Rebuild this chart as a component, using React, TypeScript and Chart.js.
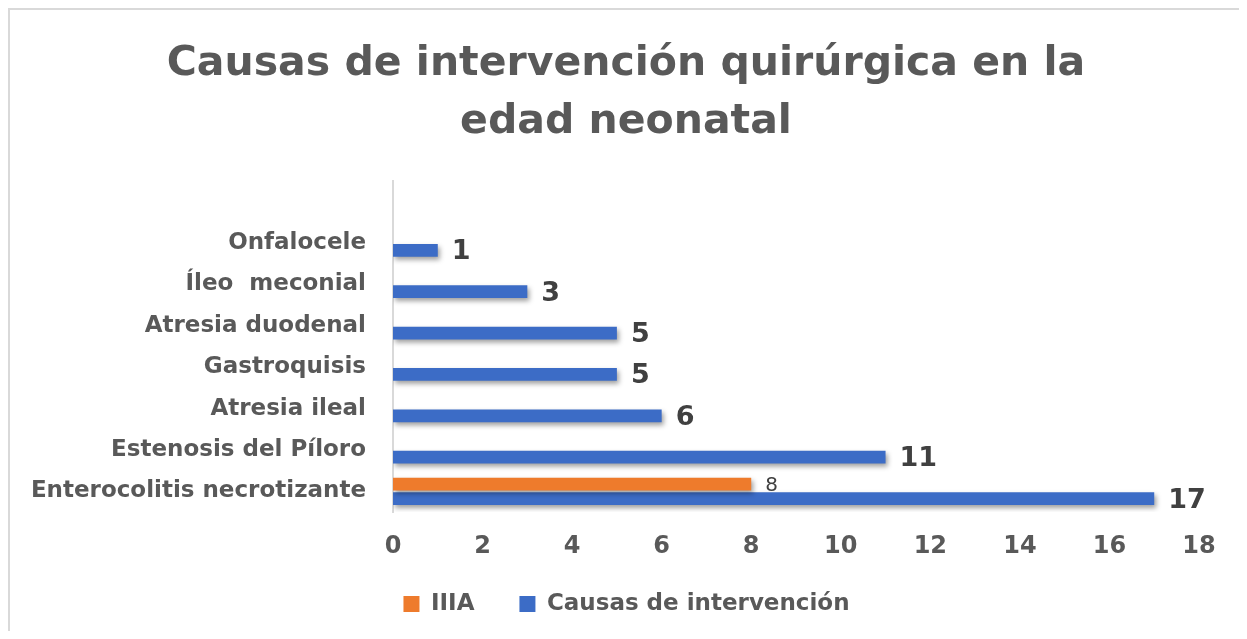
import React, { useEffect, useRef } from "react";
import { Chart, registerables } from "chart.js";

Chart.register(...registerables);

const categories = [
  "",
  "Onfalocele",
  "Íleo  meconial",
  "Atresia duodenal",
  "Gastroquisis",
  "Atresia ileal",
  "Estenosis del Píloro",
  "Enterocolitis necrotizante",
];
const iiiaValues = [null, null, null, null, null, null, null, 8];
const causasValues = [null, 1, 3, 5, 5, 6, 11, 17];
const seriesNames = ["IIIA", "Causas de intervención"];
const titleLines = ["Causas de intervención quirúrgica en la", "edad neonatal"];
const xMin = 0;
const xMax = 18;
const xStep = 2;

const FONT = "'DejaVu Sans', sans-serif";
const GRAY = "#595959";

const labelStyles = [
  { font: `normal 20px ${FONT}`, color: "#404040", dx: 14, dy: 2 },
  { font: `bold 27px ${FONT}`, color: "#404040", dx: 14, dy: 2 },
];

const blockShift = {
  id: "blockShift",
  afterLayout(chart: any) {
    const t = chart.titleBlock;
    if (t) {
      t.left += 21.5;
      t.right += 21.5;
    }
    const l = chart.legend;
    if (l) {
      l.left += 22;
      l.right += 22;
      l.top -= 16.5;
      l.bottom -= 16.5;
    }
  },
};

const barEffects = {
  id: "barEffects",
  beforeDatasetsDraw(chart: any) {
    const ctx = chart.ctx;
    ctx.save();
    ctx.shadowColor = "rgba(0,0,0,0.38)";
    ctx.shadowBlur = 5;
    ctx.shadowOffsetX = 2;
    ctx.shadowOffsetY = 3;
  },
  afterDatasetsDraw(chart: any) {
    const ctx = chart.ctx;
    ctx.restore();
    ctx.save();
    chart.data.datasets.forEach((ds: any, i: number) => {
      const meta = chart.getDatasetMeta(i);
      const st = labelStyles[i];
      meta.data.forEach((el: any, j: number) => {
        const v = ds.data[j];
        if (v === null || v === undefined) return;
        ctx.font = st.font;
        ctx.fillStyle = st.color;
        ctx.textAlign = "left";
        ctx.textBaseline = "middle";
        ctx.fillText(String(v), el.x + st.dx, el.y + st.dy);
      });
    });
    ctx.restore();
  },
};

export default function App() {
  const ref = useRef<HTMLCanvasElement | null>(null);
  useEffect(() => {
    if (!ref.current) return;
    const chart = new Chart(ref.current, {
      type: "bar",
      data: {
        labels: categories,
        datasets: [
          {
            label: seriesNames[0],
            data: iiiaValues,
            backgroundColor: "#EE7B2C",
            borderWidth: 0,
            categoryPercentage: 0.7,
            barPercentage: 0.88,
          },
          {
            label: seriesNames[1],
            data: causasValues,
            backgroundColor: "#3C6CC6",
            borderWidth: 0,
            categoryPercentage: 0.7,
            barPercentage: 0.88,
          },
        ],
      },
      plugins: [blockShift, barEffects],
      options: {
        indexAxis: "y",
        responsive: false,
        animation: false,
        events: [],
        layout: { padding: { top: 0, left: 0, right: 43, bottom: 28 } },
        scales: {
          x: {
            min: xMin,
            max: xMax,
            ticks: {
              stepSize: xStep,
              maxRotation: 0,
              padding: 20.6,
              color: GRAY,
              font: { family: FONT, size: 24, weight: "bold" },
            },
            grid: { display: false, drawTicks: false },
            border: { display: false },
            afterFit(scale: any) {
              scale.height = 52;
            },
          },
          y: {
            ticks: {
              padding: 27,
              color: GRAY,
              font: { family: FONT, size: 23, weight: "bold" },
            },
            grid: { display: false, drawTicks: false },
            border: { display: true, color: "#d9d9d9", width: 2 },
            afterFit(scale: any) {
              scale.width = 383;
            },
          },
        },
        plugins: {
          title: {
            display: true,
            text: titleLines,
            color: GRAY,
            font: { family: FONT, size: 41, weight: "bold", lineHeight: "58px" },
            padding: { top: 25, bottom: 30 },
          },
          legend: {
            position: "bottom",
            labels: {
              boxWidth: 16,
              boxHeight: 16,
              padding: 45,
              color: GRAY,
              font: { family: FONT, size: 23, weight: "bold" },
            },
          },
          tooltip: { enabled: false },
        },
      },
    } as any);
    return () => chart.destroy();
  }, []);

  return (
    <div
      style={{
        position: "relative",
        width: 1236,
        height: 623,
        overflow: "hidden",
        border: "2px solid #d9d9d9",
        borderBottom: "none",
        boxSizing: "border-box",
        background: "#fff",
      }}
    >
      <canvas
        ref={ref}
        width={1232}
        height={660}
        style={{ position: "absolute", left: 0, top: 0, width: 1232, height: 660 }}
      />
    </div>
  );
}
